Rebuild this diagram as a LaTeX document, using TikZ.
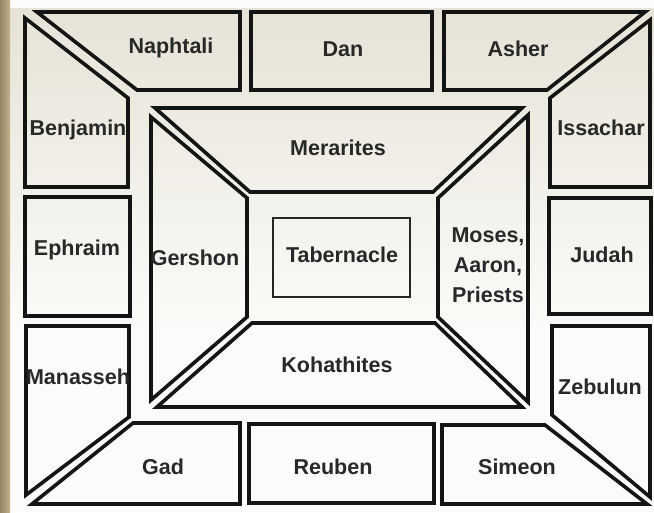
\documentclass[tikz,border=0pt]{standalone}
\usepackage{fontspec}
\setmainfont{Liberation Sans}
\usepackage{tikz}
\definecolor{inkgray}{RGB}{40, 40, 40}
\definecolor{sandtop}{RGB}{230,226,214}
\definecolor{paper}{RGB}{251,251,249}
\definecolor{phototan}{RGB}{196,178,138}

\begin{document}
\begin{tikzpicture}[x=1pt, y=-1pt,
  camp/.style={draw=black!92, line width=3.6pt, line join=miter},
  tent/.style={draw=black!85, line width=2pt},
  tribe/.style={font=\bfseries\fontsize{21.5}{30}\selectfont, text=inkgray,
                inner sep=0pt, align=center}
]
  \useasboundingbox (0,0) rectangle (654,512);
  % photo behind the plan
  \fill[paper] (0,0) rectangle (654,512);
  \shade[top color=sandtop, bottom color=paper] (10,8) rectangle (654,330);
  \shade[left color=phototan!75!black, right color=phototan] (0,0) rectangle (10,512);

  % outer camp
  \draw[camp] (37,12) -- (240,12) -- (240,90) -- (137,90) -- cycle;
  \draw[camp] (251,12) rectangle (432,90);
  \draw[camp] (444,12) -- (645,12) -- (547,90) -- (444,90) -- cycle;
  \draw[camp] (25,18) -- (128,98) -- (128,187) -- (25,187) -- cycle;
  \draw[camp] (550,98) -- (650,20) -- (650,187) -- (550,187) -- cycle;
  \draw[camp] (25,197) rectangle (130,316);
  \draw[camp] (549,198) rectangle (651,314);
  \draw[camp] (26,326) -- (129,326) -- (129,417) -- (26,495) -- cycle;
  \draw[camp] (552,326) -- (650,326) -- (650,497) -- (552,415) -- cycle;
  \draw[camp] (133,423) -- (240,423) -- (240,504) -- (32,504) -- cycle;
  \draw[camp] (249,424) rectangle (434,503);
  \draw[camp] (442,425) -- (545,425) -- (647,504) -- (442,504) -- cycle;

  % levites round the tabernacle
  \draw[camp] (155,108) -- (522,108) -- (433,192) -- (250,192) -- cycle;
  \draw[camp] (151,117) -- (247,198) -- (247,317) -- (151,400) -- cycle;
  \draw[camp] (438,198) -- (528,115) -- (528,402) -- (438,317) -- cycle;
  \draw[camp] (252,323) -- (435,323) -- (522,407) -- (157,407) -- cycle;
  \draw[tent] (273,218) rectangle (410,297);

  \node[tribe] (naphtali) at (171,48) {Naphtali};
  \node[tribe] (dan)      at (343,49) {Dan};
  \node[tribe] (asher)    at (518,49) {Asher};
  \node[tribe] (benjamin) at (78,130) {Benjamin};
  \node[tribe] (issachar) at (601,128) {Issachar};
  \node[tribe] (ephraim)  at (77,250) {Ephraim};
  \node[tribe] (judah)    at (602,255) {Judah};
  \node[tribe] (manasseh) at (78,377) {Manasseh};
  \node[tribe] (zebulun)  at (600,387) {Zebulun};
  \node[tribe] (gad)      at (163,467) {Gad};
  \node[tribe] (reuben)   at (333,467) {Reuben};
  \node[tribe] (simeon)   at (517,467) {Simeon};

  \node[tribe] (merarites)  at (338,148) {Merarites};
  \node[tribe] (gershon)    at (195,258) {Gershon};
  \node[tribe] (tabernacle) at (342,255) {Tabernacle};
  \node[tribe] (priests)    at (488,265) {Moses,\\Aaron,\\Priests};
  \node[tribe] (kohathites) at (337,365) {Kohathites};
\end{tikzpicture}
\end{document}
